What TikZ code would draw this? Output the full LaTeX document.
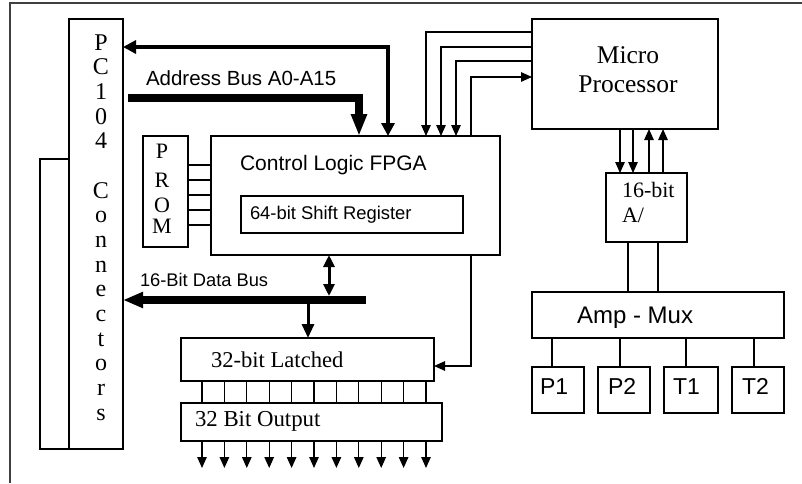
\documentclass[tikz,border=0pt]{standalone}
\usepackage{fontspec}
\setmainfont{Liberation Serif}
\newfontfamily\sansf{Liberation Sans}
\usetikzlibrary{arrows.meta}

\tikzset{
  box/.style={draw, line width=1.3pt, inner sep=0pt, outer sep=0pt, anchor=north west},
  wire/.style={line width=1.3pt},
  tipend/.style={-{Triangle[length=11pt,width=9.5pt]}},
  fatwire/.style={line width=3.5pt, line join=miter},
  busbar/.style={line width=8pt, line join=miter},
  lbl/.style={inner sep=0pt, outer sep=0pt, anchor=base west},
  letter/.style={inner sep=0pt, outer sep=0pt, anchor=base, font=\fontsize{24}{26}\selectfont},
  promletter/.style={letter, font=\fontsize{22}{24}\selectfont},
  frame/.style={line width=1.8pt, draw=black!75},
}

\begin{document}
\begin{tikzpicture}[x=1pt, y=-1pt]
\useasboundingbox (0,0) rectangle (802,483);

% page frame (top and left edges)
\draw[frame] (10,483) -- (10,3) -- (802,3);

% ---------- boxes ----------
\node[box, minimum width=54pt,  minimum height=430pt] (pc)    at (69,19)  {};
\node[box, minimum width=29pt,  minimum height=290pt] (pcside) at (40,159) {};
\node[box, minimum width=45pt,  minimum height=111pt] (prom)  at (143,136) {};
\node[box, minimum width=289pt, minimum height=119pt] (fpga)  at (211,136) {};
\node[box, minimum width=222pt, minimum height=37pt]  (shift) at (241,196) {};
\node[box, minimum width=186pt, minimum height=110pt] (micro) at (532,19)  {};
\node[box, minimum width=81pt,  minimum height=69pt]  (adc)   at (606,173) {};
\node[box, minimum width=252pt, minimum height=46pt]  (mux)   at (532,292) {};
\node[box, minimum width=52pt,  minimum height=46pt]  (p1)    at (532,367) {};
\node[box, minimum width=52pt,  minimum height=46pt]  (p2)    at (598,367) {};
\node[box, minimum width=54pt,  minimum height=46pt]  (t1)    at (664,367) {};
\node[box, minimum width=52pt,  minimum height=46pt]  (t2)    at (732,367) {};
\node[box, minimum width=253pt, minimum height=43pt]  (latch) at (181,338) {};
\node[box, minimum width=261pt, minimum height=38pt]  (outp)  at (181,403) {};

% ---------- texts ----------
\foreach \ch [count=\i from 0] in {P,C,1,0,4}
  \node[letter] (pcl\i) at (101,{50+24.67*\i}) {\ch};
\foreach \ch [count=\i from 6] in {C,o,n,n,e,c,t,o,r,s}
  \node[letter] (pcl\i) at (101,{50+24.67*\i}) {\ch};

\node[promletter] (promP) at (162,158) {P};
\node[promletter] (promR) at (162,187) {R};
\node[promletter] (promO) at (162,212) {O};
\node[promletter] (promM) at (162,233) {M};

\node[lbl, font=\sansf\fontsize{20.5}{24}\selectfont] (addrlbl) at (146,85) {Address Bus A0-A15};
\node[lbl, font=\sansf\fontsize{21}{24}\selectfont] (fpgalbl) at (240,170) {Control Logic FPGA};
\node[lbl, font=\sansf\fontsize{18.4}{22}\selectfont] (shiftlbl) at (250,219) {64-bit Shift Register};
\node[lbl, font=\sansf\fontsize{18.3}{22}\selectfont] (datalbl) at (140,286) {16-Bit Data Bus};

\node[letter, font=\fontsize{25.5}{28}\selectfont] (microlbl) at (628,63) {Micro};
\node[letter, font=\fontsize{25.5}{28}\selectfont] (proclbl) at (628,92) {Processor};

\node[lbl, font=\fontsize{22}{24}\selectfont] (adclbl1) at (622,197) {16-bit};
\node[lbl, font=\fontsize{22}{24}\selectfont] (adclbl2) at (622,222) {A/};

\node[lbl, font=\sansf\fontsize{24}{26}\selectfont] (muxlbl) at (577,323) {Amp - Mux};
\node[lbl, font=\sansf\fontsize{23}{26}\selectfont] (p1lbl) at (540,394) {P1};
\node[lbl, font=\sansf\fontsize{23}{26}\selectfont] (p2lbl) at (608,394) {P2};
\node[lbl, font=\sansf\fontsize{23}{26}\selectfont] (t1lbl) at (673,394) {T1};
\node[lbl, font=\sansf\fontsize{23}{26}\selectfont] (t2lbl) at (742,394) {T2};

\node[lbl, font=\fontsize{22.6}{25}\selectfont] (latchlbl) at (211,367) {32-bit Latched};
\node[lbl, font=\fontsize{22.8}{25}\selectfont] (outlbl) at (195,426) {32 Bit Output};

% ---------- PC104 <-> FPGA ----------
\draw[fatwire, {Triangle[length=13pt,width=13pt]}-{Triangle[length=13pt,width=13pt]}]
  (pc.east |- 0,47) -- (388,47) -- (388,0 |- fpga.north);

% address bus into the FPGA
\coordinate (abstart) at (128,97.5);
\draw[busbar, -{Triangle[length=22pt,width=15pt]}]
  (abstart) -- (359,97.5) -- (359,0 |- fpga.north);

% ---------- microprocessor <-> FPGA ----------
\draw[wire, tipend] (micro.west |- 0,32) -- (426,32) -- (426,0 |- fpga.north);
\draw[wire, tipend] (micro.west |- 0,47) -- (441,47) -- (441,0 |- fpga.north);
\draw[wire, tipend] (micro.west |- 0,61) -- (456,61) -- (456,0 |- fpga.north);
\draw[wire, tipend] (471,0 |- fpga.north) -- (471,77) -- (micro.west |- 0,77);

% ---------- microprocessor <-> A/D ----------
\draw[wire, tipend] (620,0 |- micro.south) -- (620,0 |- adc.north);
\draw[wire, tipend] (633,0 |- micro.south) -- (633,0 |- adc.north);
\draw[wire, tipend] (649,0 |- adc.north) -- (649,0 |- micro.south);
\draw[wire, tipend] (663,0 |- adc.north) -- (663,0 |- micro.south);

% A/D to amplifier multiplexer
\draw[wire] (628,0 |- adc.south) -- (628,0 |- mux.north);
\draw[wire] (658,0 |- adc.south) -- (658,0 |- mux.north);

% multiplexer inputs
\draw[wire] (552,0 |- mux.south) -- (552,0 |- p1.north);
\draw[wire] (620,0 |- mux.south) -- (620,0 |- p2.north);
\draw[wire] (686,0 |- mux.south) -- (686,0 |- t1.north);
\draw[wire] (754,0 |- mux.south) -- (754,0 |- t2.north);

% PROM configuration lines
\foreach \yy in {165,180,195,210,225}
  \draw[wire] (prom.east |- 0,\yy) -- (fpga.west |- 0,\yy);

% ---------- data bus ----------
\coordinate (dbstart) at (366,300);
\draw[busbar, -{Triangle[length=20pt,width=15pt]}] (dbstart) -- (pc.east |- 0,300);

\coordinate (dbtop) at (329,296);
\draw[line width=3pt, {Triangle[length=12pt,width=11pt]}-{Triangle[length=12pt,width=11pt]}]
  (329,0 |- fpga.south) -- (dbtop);

\coordinate (dbbot) at (308,304);
\draw[line width=3pt, -{Triangle[length=14pt,width=12pt]}] (dbbot) -- (308,0 |- latch.north);

% FPGA strobe to latch
\draw[wire, tipend] (471,0 |- fpga.south) -- (471,366) -- (latch.east |- 0,366);

% latch to output stage and outputs
\foreach \k in {0,...,10} {
  \pgfmathsetmacro{\xx}{202+22.4*\k}
  \draw[wire] (\xx,0 |- latch.south) -- (\xx,0 |- outp.north);
  \coordinate (o\k) at (\xx,468);
  \draw[wire, tipend] (\xx,0 |- outp.south) -- (o\k);
}
\end{tikzpicture}
\end{document}
